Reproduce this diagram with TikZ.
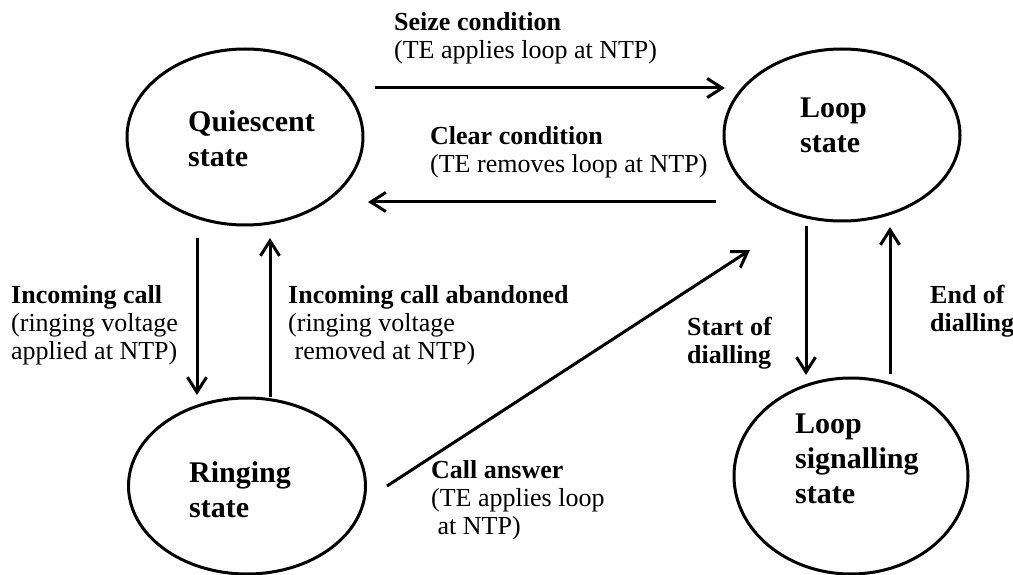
\documentclass[tikz,border=0pt]{standalone}
\usepackage{fontspec}
\setmainfont{Liberation Serif}
\usetikzlibrary{shapes.geometric,arrows.meta}
\tikzset{
  statebox/.style={draw, ellipse, line width=3pt, inner sep=0pt},
  statetext/.style={anchor=base west, inner sep=0pt, font=\fontsize{30}{35}\selectfont\bfseries},
  edgetext/.style={anchor=base west, inner sep=0pt, font=\fontsize{26}{28}\selectfont},
  arr/.style={line width=3pt, -{Straight Barb[length=15pt,width=19pt]}}
}
\newcommand{\lines}[1]{\begin{tabular}[t]{@{}l@{}}#1\end{tabular}}
\begin{document}
\begin{tikzpicture}[x=1pt,y=-1pt]
\useasboundingbox (0,0) rectangle (1013,575);
% states
\node[statebox, minimum width=236pt, minimum height=176pt] (Q) at (245,137) {};
\node[statebox, minimum width=236pt, minimum height=172pt] (L) at (842,135) {};
\node[statebox, minimum width=237pt, minimum height=176pt] (R) at (247,486) {};
\node[statebox, minimum width=234pt, minimum height=196pt] (S) at (851,476) {};
\node[statetext] (Qt) at (188,132) {\lines{Quiescent\\state}};
\node[statetext] (Lt) at (800,118) {\lines{Loop\\state}};
\node[statetext] (Rt) at (189,482) {\lines{Ringing\\state}};
\node[statetext] (St) at (795,433) {\lines{Loop\\signalling\\state}};
% connector end points
\coordinate (seizeA) at (375,88);  \coordinate (seizeB) at (725,88);
\coordinate (clearA) at (716,202); \coordinate (clearB) at (368,202);
\coordinate (incA) at (197,238);   \coordinate (incB) at (197,395);
\coordinate (abnA) at (270,397);   \coordinate (abnB) at (270,238);
\coordinate (ansA) at (387,486);   \coordinate (ansB) at (750,250);
\coordinate (sodA) at (806,226);   \coordinate (sodB) at (806,375);
\coordinate (eodA) at (890,374);   \coordinate (eodB) at (890,227);
\draw[arr] (seizeA) -- (seizeB);
\draw[arr] (clearA) -- (clearB);
\draw[arr] (incA) -- (incB);
\draw[arr] (abnA) -- (abnB);
\draw[arr] (ansA) -- (ansB);
\draw[arr] (sodA) -- (sodB);
\draw[arr] (eodA) -- (eodB);
% labels
\node[edgetext] (seize) at (394,31) {\lines{\textbf{Seize condition}\\(TE applies loop at NTP)}};
\node[edgetext] (clear) at (430,145) {\lines{\textbf{Clear condition}\\(TE removes loop at NTP)}};
\node[edgetext] (inc) at (11,303) {\lines{\textbf{Incoming call}\\(ringing voltage\\applied at NTP)}};
\node[edgetext] (abn) at (288,303) {\lines{\textbf{Incoming call abandoned}\\(ringing voltage\\\ removed at NTP)}};
\node[edgetext] (sod) at (687,335) {\lines{\textbf{Start of}\\\textbf{dialling}}};
\node[edgetext] (eod) at (930,303) {\lines{\textbf{End of}\\\textbf{dialling}}};
\node[edgetext] (ans) at (431,478) {\lines{\textbf{Call answer}\\(TE applies loop\\\ at NTP)}};
\end{tikzpicture}
\end{document}
